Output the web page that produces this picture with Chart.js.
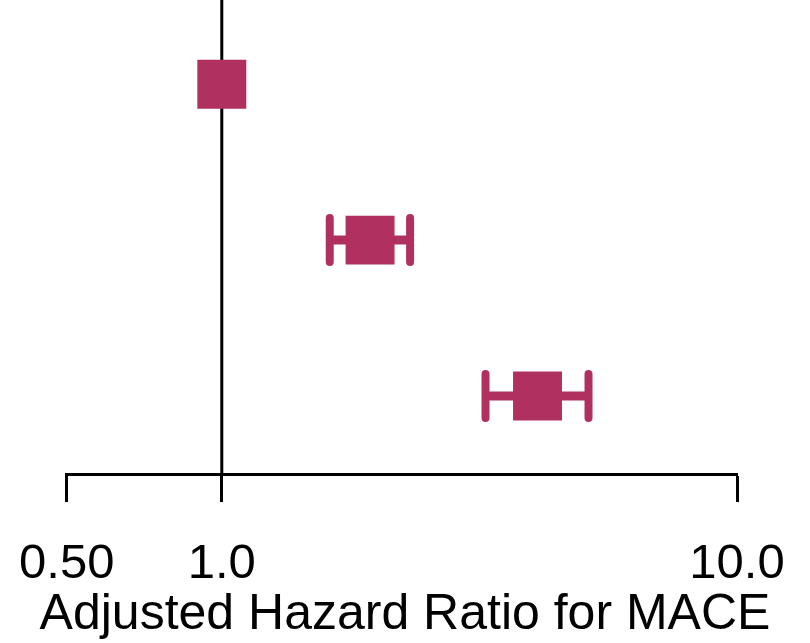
<!DOCTYPE html>
<html>
<head>
<meta charset="utf-8">
<script src="https://cdn.jsdelivr.net/npm/chart.js@4/dist/chart.umd.min.js"></script>
<style>
  html, body { margin: 0; padding: 0; background: #fff; }
  #wrap { width: 810px; height: 643px; }
</style>
</head>
<body>
<div id="wrap"><canvas id="forest"></canvas></div>
<script>
// rows top to bottom
const rowPos = [3, 2, 1];
const hazardRatio = [1.0, 1.94, 4.10];
const ciLow = [1.0, 1.62, 3.25];
const ciHigh = [1.0, 2.32, 5.15];
const tickValues = [0.5, 1, 10];
const tickLabels = ['0.50', '1.0', '10.0'];
const axisTitle = 'Adjusted Hazard Ratio for MACE';

const markColor = '#B03060';
const fontFamily = '"Liberation Sans", Arial, sans-serif';

const yMin = 0.5, yMax = 3.54;

// whiskers with caps, drawn under the squares
const errorBars = {
    id: 'errorBars',
    beforeDatasetsDraw(chart) {
        const ctx = chart.ctx;
        const xs = chart.scales.x, ys = chart.scales.y;
        ctx.save();
        ctx.strokeStyle = markColor;
        hazardRatio.forEach((v, i) => {
            if (ciLow[i] === ciHigh[i]) return;
            const y = ys.getPixelForValue(rowPos[i]);
            const x0 = xs.getPixelForValue(ciLow[i]);
            const x1 = xs.getPixelForValue(ciHigh[i]);
            ctx.lineWidth = 9;
            ctx.lineCap = 'butt';
            ctx.beginPath(); ctx.moveTo(x0, y); ctx.lineTo(x1, y); ctx.stroke();
            ctx.lineWidth = 8;
            ctx.lineCap = 'round';
            [x0, x1].forEach(x => {
                ctx.beginPath(); ctx.moveTo(x, y - 22); ctx.lineTo(x, y + 22); ctx.stroke();
            });
        });
        ctx.restore();
    }
};

// invisible side axes just hold the margins so the title can use the full width
const spacerAxis = (pos, w) => ({
    position: pos,
    display: true,
    min: yMin,
    max: yMax,
    grid: { display: false },
    border: { display: false },
    ticks: { display: false },
    afterFit: a => { a.width = w; }
});

new Chart(document.getElementById('forest'), {
    type: 'scatter',
    data: {
        datasets: [
            {
                data: hazardRatio.map((v, i) => ({ x: v, y: rowPos[i] })),
                pointStyle: 'rect',
                pointRadius: 34.6,
                backgroundColor: markColor,
                borderWidth: 0,
                order: 0
            },
            {
                data: [{ x: 1, y: yMin }, { x: 1, y: yMax }],
                showLine: true,
                pointRadius: 0,
                borderColor: '#000',
                borderWidth: 3,
                order: 1
            }
        ]
    },
    options: {
        responsive: true,
        maintainAspectRatio: false,
        animation: false,
        layout: { autoPadding: false, padding: 0 },
        plugins: {
            legend: { display: false },
            tooltip: { enabled: false },
            title: {
                display: true,
                position: 'bottom',
                text: axisTitle,
                color: '#000',
                font: { family: fontFamily, size: 50, weight: 'normal', lineHeight: 1 },
                padding: { top: 1, bottom: 3 }
            }
        },
        scales: {
            x: {
                type: 'logarithmic',
                min: 0.5,
                max: 10,
                afterBuildTicks: axis => { axis.ticks = tickValues.map(v => ({ value: v })); },
                afterFit: axis => { axis.paddingLeft = 0; axis.paddingRight = 0; axis.height = 115; },
                grid: { display: true, drawOnChartArea: false, drawTicks: true, tickLength: 28, tickWidth: 3, tickColor: '#000' },
                border: { display: true, color: '#000', width: 3 },
                ticks: {
                    autoSkip: false,
                    maxRotation: 0,
                    padding: 38,
                    color: '#000',
                    font: { family: fontFamily, size: 49, lineHeight: 1 },
                    callback: (val) => tickLabels[tickValues.indexOf(val)] ?? ''
                }
            },
            y: spacerAxis('left', 66.7),
            y2: spacerAxis('right', 73)
        }
    },
    plugins: [errorBars]
});
</script>
</body>
</html>
